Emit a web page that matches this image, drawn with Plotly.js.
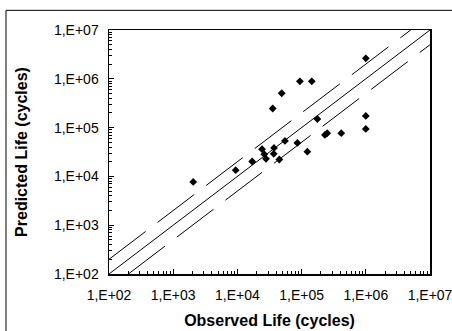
<!DOCTYPE html>
<html>
<head>
<meta charset="utf-8">
<script src="https://cdn.plot.ly/plotly-3.0.1.min.js"></script>
<style>html,body{margin:0;padding:0;background:#fff;}#chart{width:452px;height:331px;}</style>
</head>
<body>
<div id="chart"></div>
<script>
// Observed vs predicted fatigue life (cycles)
const observedLife = [2050, 9400, 17000, 24200, 26200, 27900, 37200, 36800, 45000, 35500, 49000, 55000, 86000, 94000, 123000, 144000, 176000, 231000, 251000, 415000, 1000000, 1000000, 1000000];
const predictedLife = [7700, 13400, 20200, 36100, 28600, 22900, 38400, 29000, 22200, 246000, 506000, 53400, 48600, 889000, 32100, 889000, 150000, 70900, 76800, 76800, 2630000, 173500, 94000];
// 1:1 line bounds and scatter-band factor
const lineBounds = [1e2, 1e7];
const bandFactor = 2;
// tick values and labels
const tickValues = [1e2, 1e3, 1e4, 1e5, 1e6, 1e7];
const tickLabels = ['1,E+02', '1,E+03', '1,E+04', '1,E+05', '1,E+06', '1,E+07'];

const upperX = [lineBounds[0], lineBounds[1] / bandFactor];
const upperY = upperX.map(v => v * bandFactor);
const lowerX = [lineBounds[0] * bandFactor, lineBounds[1]];
const lowerY = lowerX.map(v => v / bandFactor);

const dashStyle = '46px,15px';
const traces = [
  {x: lineBounds, y: lineBounds, mode: 'lines', line: {color: '#000', width: 1}, hoverinfo: 'skip'},
  {x: upperX, y: upperY, mode: 'lines', line: {color: '#000', width: 1, dash: dashStyle}, hoverinfo: 'skip'},
  {x: lowerX, y: lowerY, mode: 'lines', line: {color: '#000', width: 1, dash: dashStyle}, hoverinfo: 'skip'},
  {x: observedLife, y: predictedLife, mode: 'markers', marker: {symbol: 'diamond', size: 6, color: '#000'}, cliponaxis: false}
];

const FONT = 'Liberation Sans, Arial, sans-serif';
const axisCommon = {
  type: 'log',
  range: [2, 7],
  tickmode: 'array',
  tickvals: tickValues,
  ticktext: tickLabels,
  ticks: 'inside',
  ticklen: 5,
  tickcolor: '#000',
  showline: true,
  linecolor: '#000',
  linewidth: 1.5,
  mirror: true,
  showgrid: false,
  zeroline: false,
  ticklabeloverflow: 'allow',
  tickfont: {family: FONT, size: 14, color: '#000'},
  minor: {dtick: 'D1', ticks: 'inside', ticklen: 3, tickcolor: '#000', showgrid: false}
};

const layout = {
  width: 452, height: 331,
  margin: {l: 109, r: 22, t: 30, b: 57},
  paper_bgcolor: '#fff', plot_bgcolor: '#fff',
  showlegend: false,
  font: {family: FONT, color: '#000'},
  xaxis: Object.assign({}, axisCommon, {
    ticklabelstandoff: 8,
    title: {text: 'Observed Life (cycles)', font: {size: 16, weight: 'bold', family: FONT}, standoff: 12}
  }),
  yaxis: Object.assign({}, axisCommon, {
    ticklabelstandoff: 6,
    title: {text: 'Predicted Life (cycles)', font: {size: 16, weight: 'bold', family: FONT}, standoff: 22}
  }),
  shapes: [
    {type: 'line', xref: 'paper', yref: 'paper', x0: -0.3209, x1: -0.3209, y0: -0.5, y1: 1.0806, line: {color: '#000', width: 1}, layer: 'below'},
    {type: 'line', xref: 'paper', yref: 'paper', x0: -0.3209, x1: 1.5, y0: 1.0806, y1: 1.0806, line: {color: '#000', width: 1}, layer: 'below'}
  ]
};

Plotly.newPlot('chart', traces, layout, {displayModeBar: false, staticPlot: true});
</script>
</body>
</html>
